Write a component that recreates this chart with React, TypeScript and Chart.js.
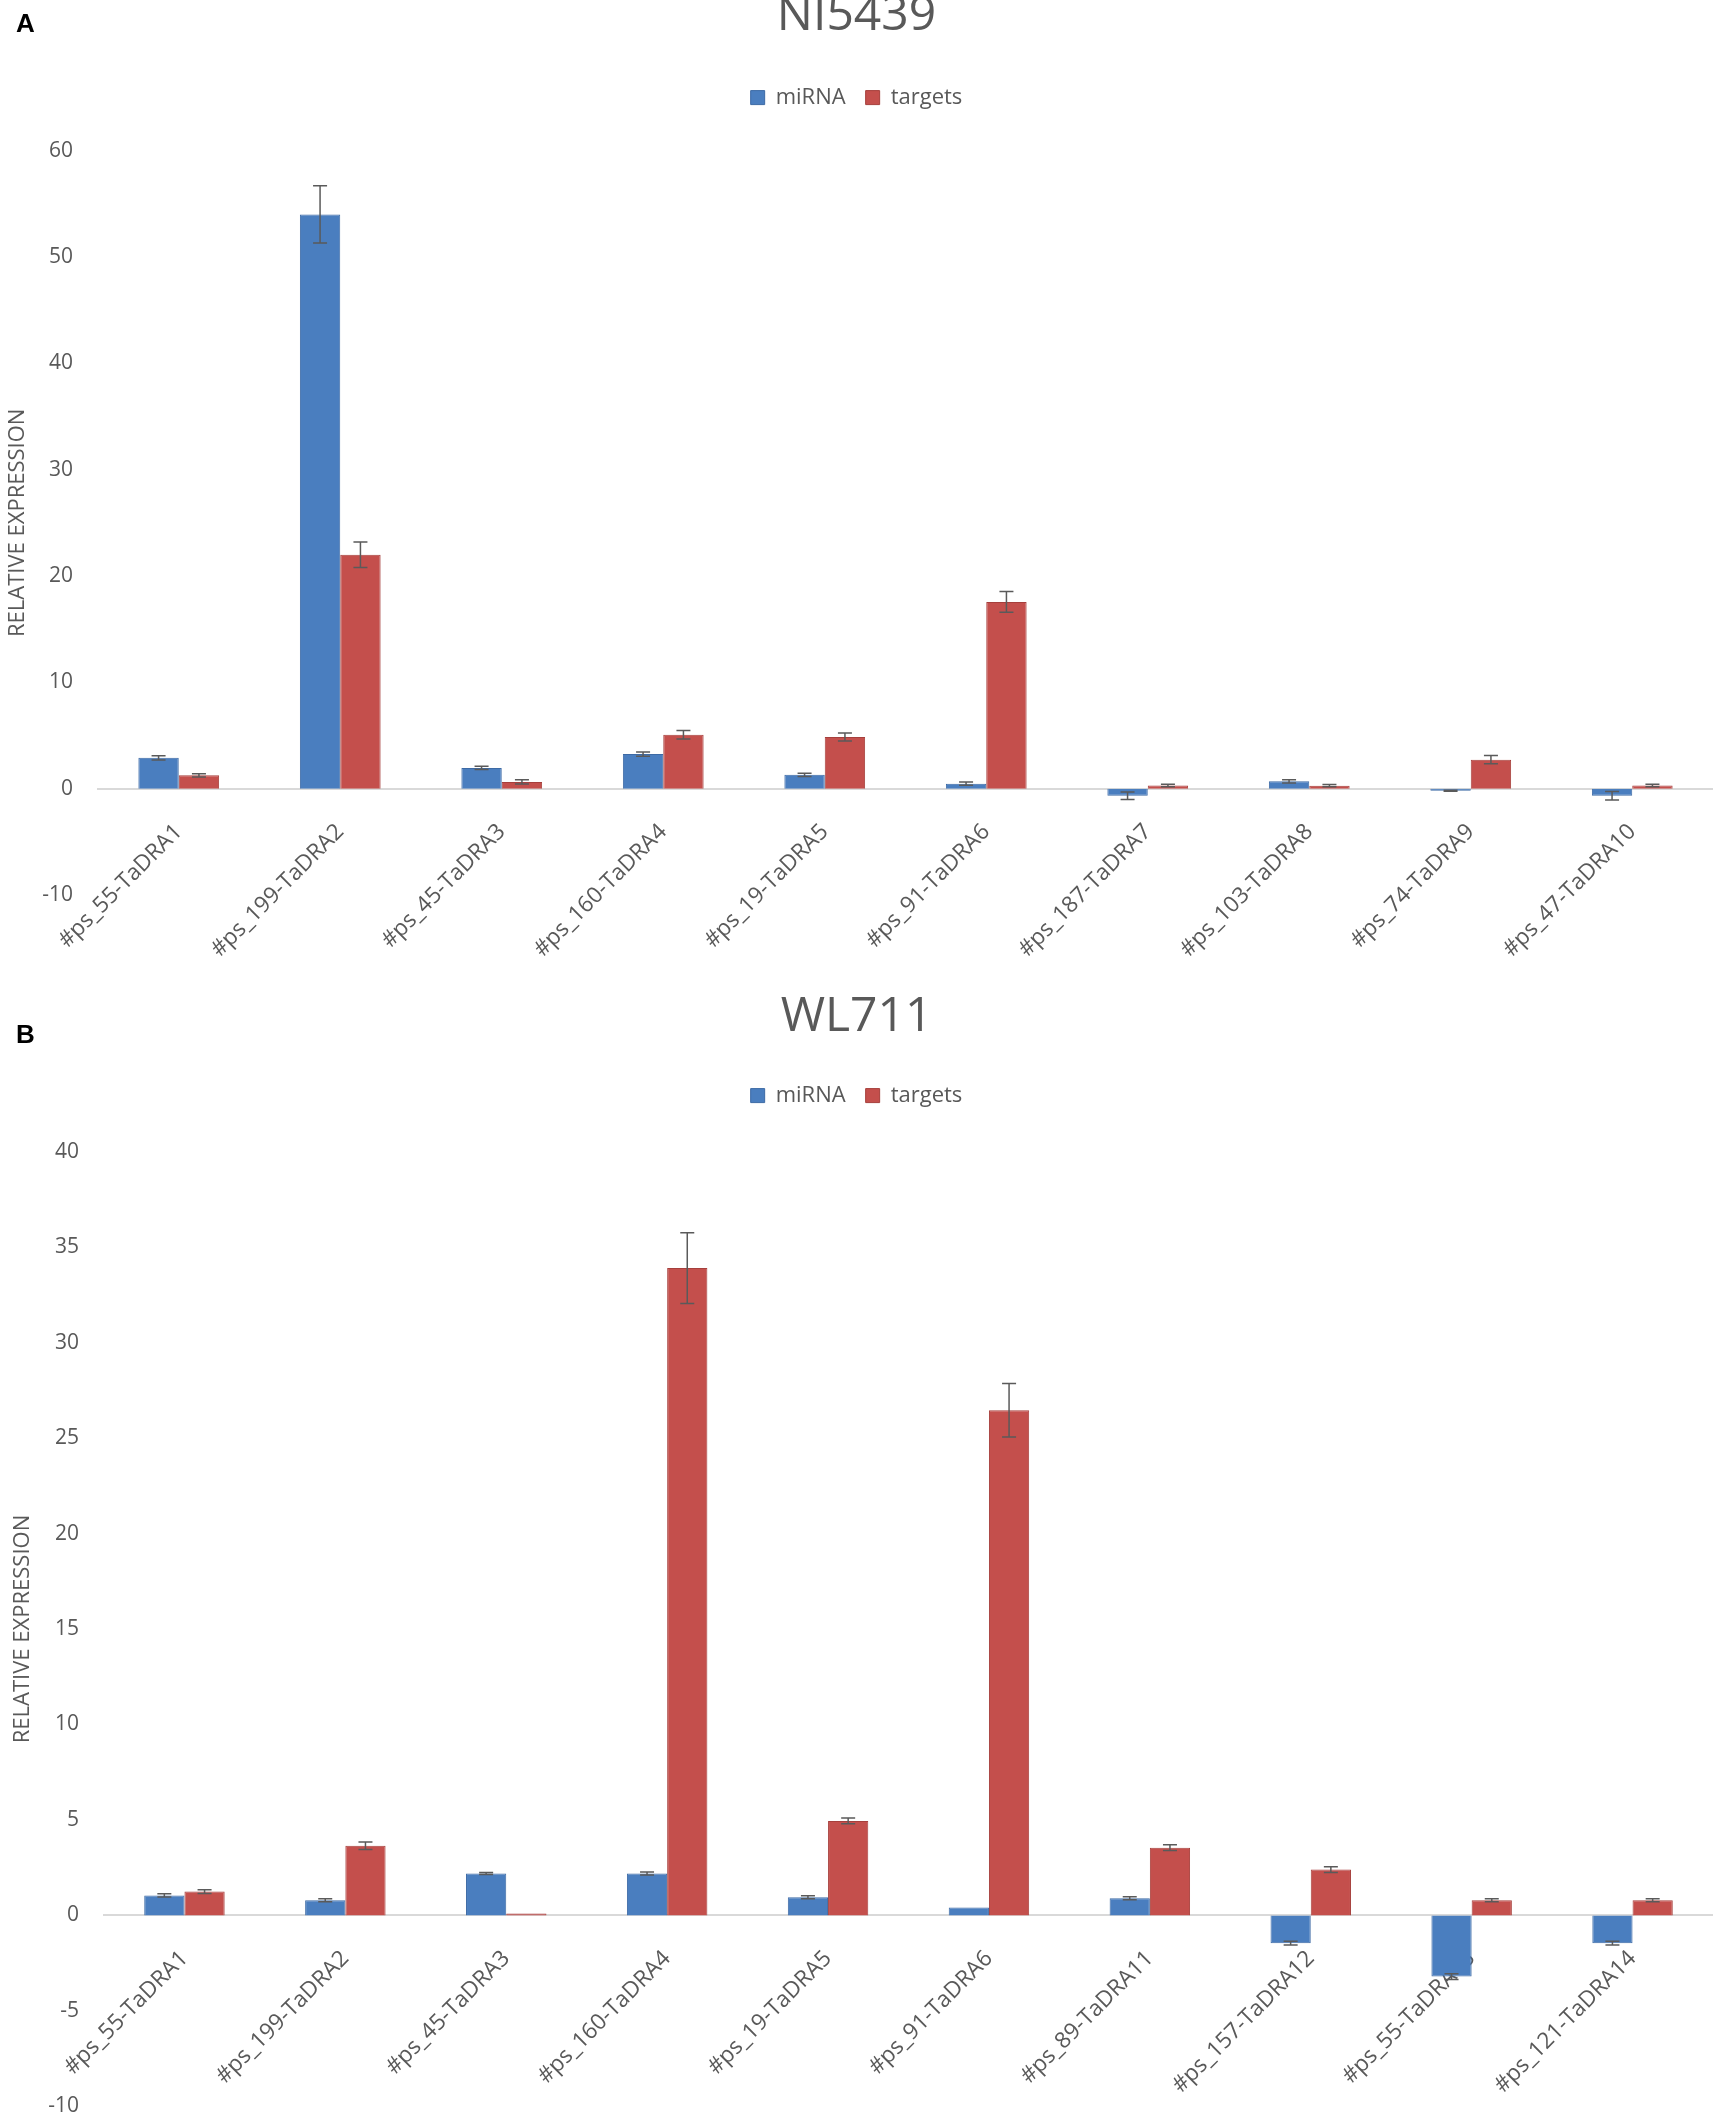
import { useEffect, useRef } from "react";
import Chart from "chart.js/auto";

const FONT = "'Open Sans', 'DejaVu Sans', sans-serif";
const TEXT = "#595959";

// panel A – NI5439
const labelsA = [
  "#ps_55-TaDRA1", "#ps_199-TaDRA2", "#ps_45-TaDRA3", "#ps_160-TaDRA4", "#ps_19-TaDRA5",
  "#ps_91-TaDRA6", "#ps_187-TaDRA7", "#ps_103-TaDRA8", "#ps_74-TaDRA9", "#ps_47-TaDRA10",
];
const mirnaA = [2.9, 54.0, 1.95, 3.25, 1.3, 0.47, -0.66, 0.69, -0.2, -0.66];
const targetsA = [1.25, 22.0, 0.63, 5.08, 4.86, 17.56, 0.3, 0.28, 2.73, 0.3];
const mirnaErrA = [0.2, 2.7, 0.15, 0.2, 0.15, 0.15, 0.35, 0.15, 0.05, 0.4];
const targetsErrA = [0.15, 1.2, 0.2, 0.4, 0.38, 0.97, 0.12, 0.1, 0.38, 0.12];

// panel B – WL711
const labelsB = [
  "#ps_55-TaDRA1", "#ps_199-TaDRA2", "#ps_45-TaDRA3", "#ps_160-TaDRA4", "#ps_19-TaDRA5",
  "#ps_91-TaDRA6", "#ps_89-TaDRA11", "#ps_157-TaDRA12", "#ps_55-TaDRA13", "#ps_121-TaDRA14",
];
const mirnaB = [1.05, 0.8, 2.2, 2.2, 0.95, 0.42, 0.9, -1.45, -3.2, -1.45];
const targetsB = [1.25, 3.65, 0.1, 33.9, 4.95, 26.45, 3.55, 2.4, 0.8, 0.8];
const mirnaErrB = [0.08, 0.08, 0.05, 0.08, 0.08, 0, 0.08, 0.1, 0.15, 0.1];
const targetsErrB = [0.1, 0.2, 0, 1.85, 0.15, 1.4, 0.15, 0.15, 0.08, 0.08];

// draws +/- error whiskers on every bar
const errorBars = {
  id: "errorBars",
  afterDatasetsDraw(chart: any) {
    const { ctx } = chart;
    const yScale = chart.scales.y;
    ctx.save();
    ctx.strokeStyle = "#5a5a5a";
    ctx.lineWidth = 1.5;
    chart.data.datasets.forEach((ds: any, i: number) => {
      if (!ds.errors) return;
      const meta = chart.getDatasetMeta(i);
      meta.data.forEach((bar: any, j: number) => {
        const e = ds.errors[j];
        if (!e) return;
        const v = ds.data[j];
        const yHi = yScale.getPixelForValue(v + e);
        const yLo = yScale.getPixelForValue(v - e);
        ctx.beginPath();
        ctx.moveTo(bar.x, yHi);
        ctx.lineTo(bar.x, yLo);
        ctx.moveTo(bar.x - 7, yHi);
        ctx.lineTo(bar.x + 7, yHi);
        ctx.moveTo(bar.x - 7, yLo);
        ctx.lineTo(bar.x + 7, yLo);
        ctx.stroke();
      });
    });
    ctx.restore();
  },
};

// extra space under the legend
const legendGap = (extra: number) => ({
  id: "legendGap",
  beforeInit(chart: any) {
    const fit = chart.legend.fit;
    chart.legend.fit = function () {
      fit.call(this);
      this.height += extra;
    };
  },
});

interface PanelProps {
  title: string;
  labels: string[];
  mirna: number[];
  targets: number[];
  mirnaErr: number[];
  targetsErr: number[];
  yMin: number;
  yMax: number;
  step: number;
  top: number;
  height: number;
  titlePad: { top: number; bottom: number };
  gap: number;
  axisWidth: number;
  axisTitlePad: number;
  bottomPad: number;
}

function BarPanel(p: PanelProps) {
  const canvasRef = useRef<HTMLCanvasElement | null>(null);

  useEffect(() => {
    if (!canvasRef.current) return;
    const chart = new Chart(canvasRef.current, {
      type: "bar",
      data: {
        labels: p.labels,
        datasets: [
          {
            label: "miRNA",
            data: p.mirna,
            errors: p.mirnaErr,
            backgroundColor: "#4a7ebf",
            borderColor: "#3d6aa5",
            borderWidth: 1,
          } as any,
          {
            label: "targets",
            data: p.targets,
            errors: p.targetsErr,
            backgroundColor: "#c44f4c",
            borderColor: "#a63f3c",
            borderWidth: 1,
          } as any,
        ],
      },
      options: {
        responsive: false,
        animation: false,
        layout: { padding: { left: 0, right: 0, top: 0, bottom: p.bottomPad } },
        datasets: { bar: { categoryPercentage: 0.5, barPercentage: 1.0 } },
        plugins: {
          title: {
            display: true,
            text: p.title,
            color: TEXT,
            font: { family: FONT, size: 48, weight: "normal", lineHeight: 1.2 },
            padding: p.titlePad,
          },
          legend: {
            position: "top",
            labels: {
              boxWidth: 14,
              boxHeight: 14,
              padding: 20,
              color: TEXT,
              font: { family: FONT, size: 22 },
            },
          },
          tooltip: { enabled: false },
        },
        scales: {
          x: {
            position: { y: 0 } as any,
            grid: { display: false, drawTicks: false },
            border: { display: true, color: "#d9d9d9", width: 2 },
            ticks: {
              autoSkip: false,
              minRotation: 45,
              maxRotation: 45,
              padding: 30,
              color: TEXT,
              font: { family: FONT, size: 22.5 },
            },
          },
          y: {
            min: p.yMin,
            max: p.yMax,
            grid: { display: false, drawTicks: false },
            border: { display: false },
            ticks: {
              stepSize: p.step,
              padding: 25,
              color: TEXT,
              font: { family: FONT, size: 21 },
            },
            title: {
              display: true,
              text: "RELATIVE EXPRESSION",
              color: TEXT,
              font: { family: FONT, size: 22 },
              padding: { top: p.axisTitlePad, bottom: 0 },
            },
            afterFit: (s: any) => {
              s.width = p.axisWidth;
            },
          },
        },
      },
      plugins: [errorBars, legendGap(p.gap)],
    });
    return () => chart.destroy();
  }, []);

  return (
    <canvas
      ref={canvasRef}
      width={1713}
      height={p.height}
      style={{ position: "absolute", left: 0, top: p.top, width: 1713, height: p.height }}
    />
  );
}

export default function App() {
  return (
    <div style={{ position: "absolute", left: 0, top: 0, width: 1713, height: 2128, overflow: "hidden", background: "#fff" }}>
      <BarPanel
        title="NI5439"
        labels={labelsA}
        mirna={mirnaA}
        targets={targetsA}
        mirnaErr={mirnaErrA}
        targetsErr={targetsErrA}
        yMin={-10}
        yMax={60}
        step={10}
        top={-12}
        height={992}
        titlePad={{ top: 0, bottom: 21 }}
        gap={32}
        axisWidth={98}
        axisTitlePad={4.5}
        bottomPad={85}
      />
      <BarPanel
        title="WL711"
        labels={labelsB}
        mirna={mirnaB}
        targets={targetsB}
        mirnaErr={mirnaErrB}
        targetsErr={targetsErrB}
        yMin={-10}
        yMax={40}
        step={5}
        top={980}
        height={1164}
        titlePad={{ top: 9, bottom: 18 }}
        gap={35}
        axisWidth={104}
        axisTitlePad={10}
        bottomPad={23}
      />
      <div style={{ position: "absolute", left: 16, top: 10, font: "bold 26px 'Liberation Sans', Arial, sans-serif", lineHeight: "26px", color: "#000" }}>A</div>
      <div style={{ position: "absolute", left: 16, top: 1021, font: "bold 26px 'Liberation Sans', Arial, sans-serif", lineHeight: "26px", color: "#000" }}>B</div>
    </div>
  );
}
